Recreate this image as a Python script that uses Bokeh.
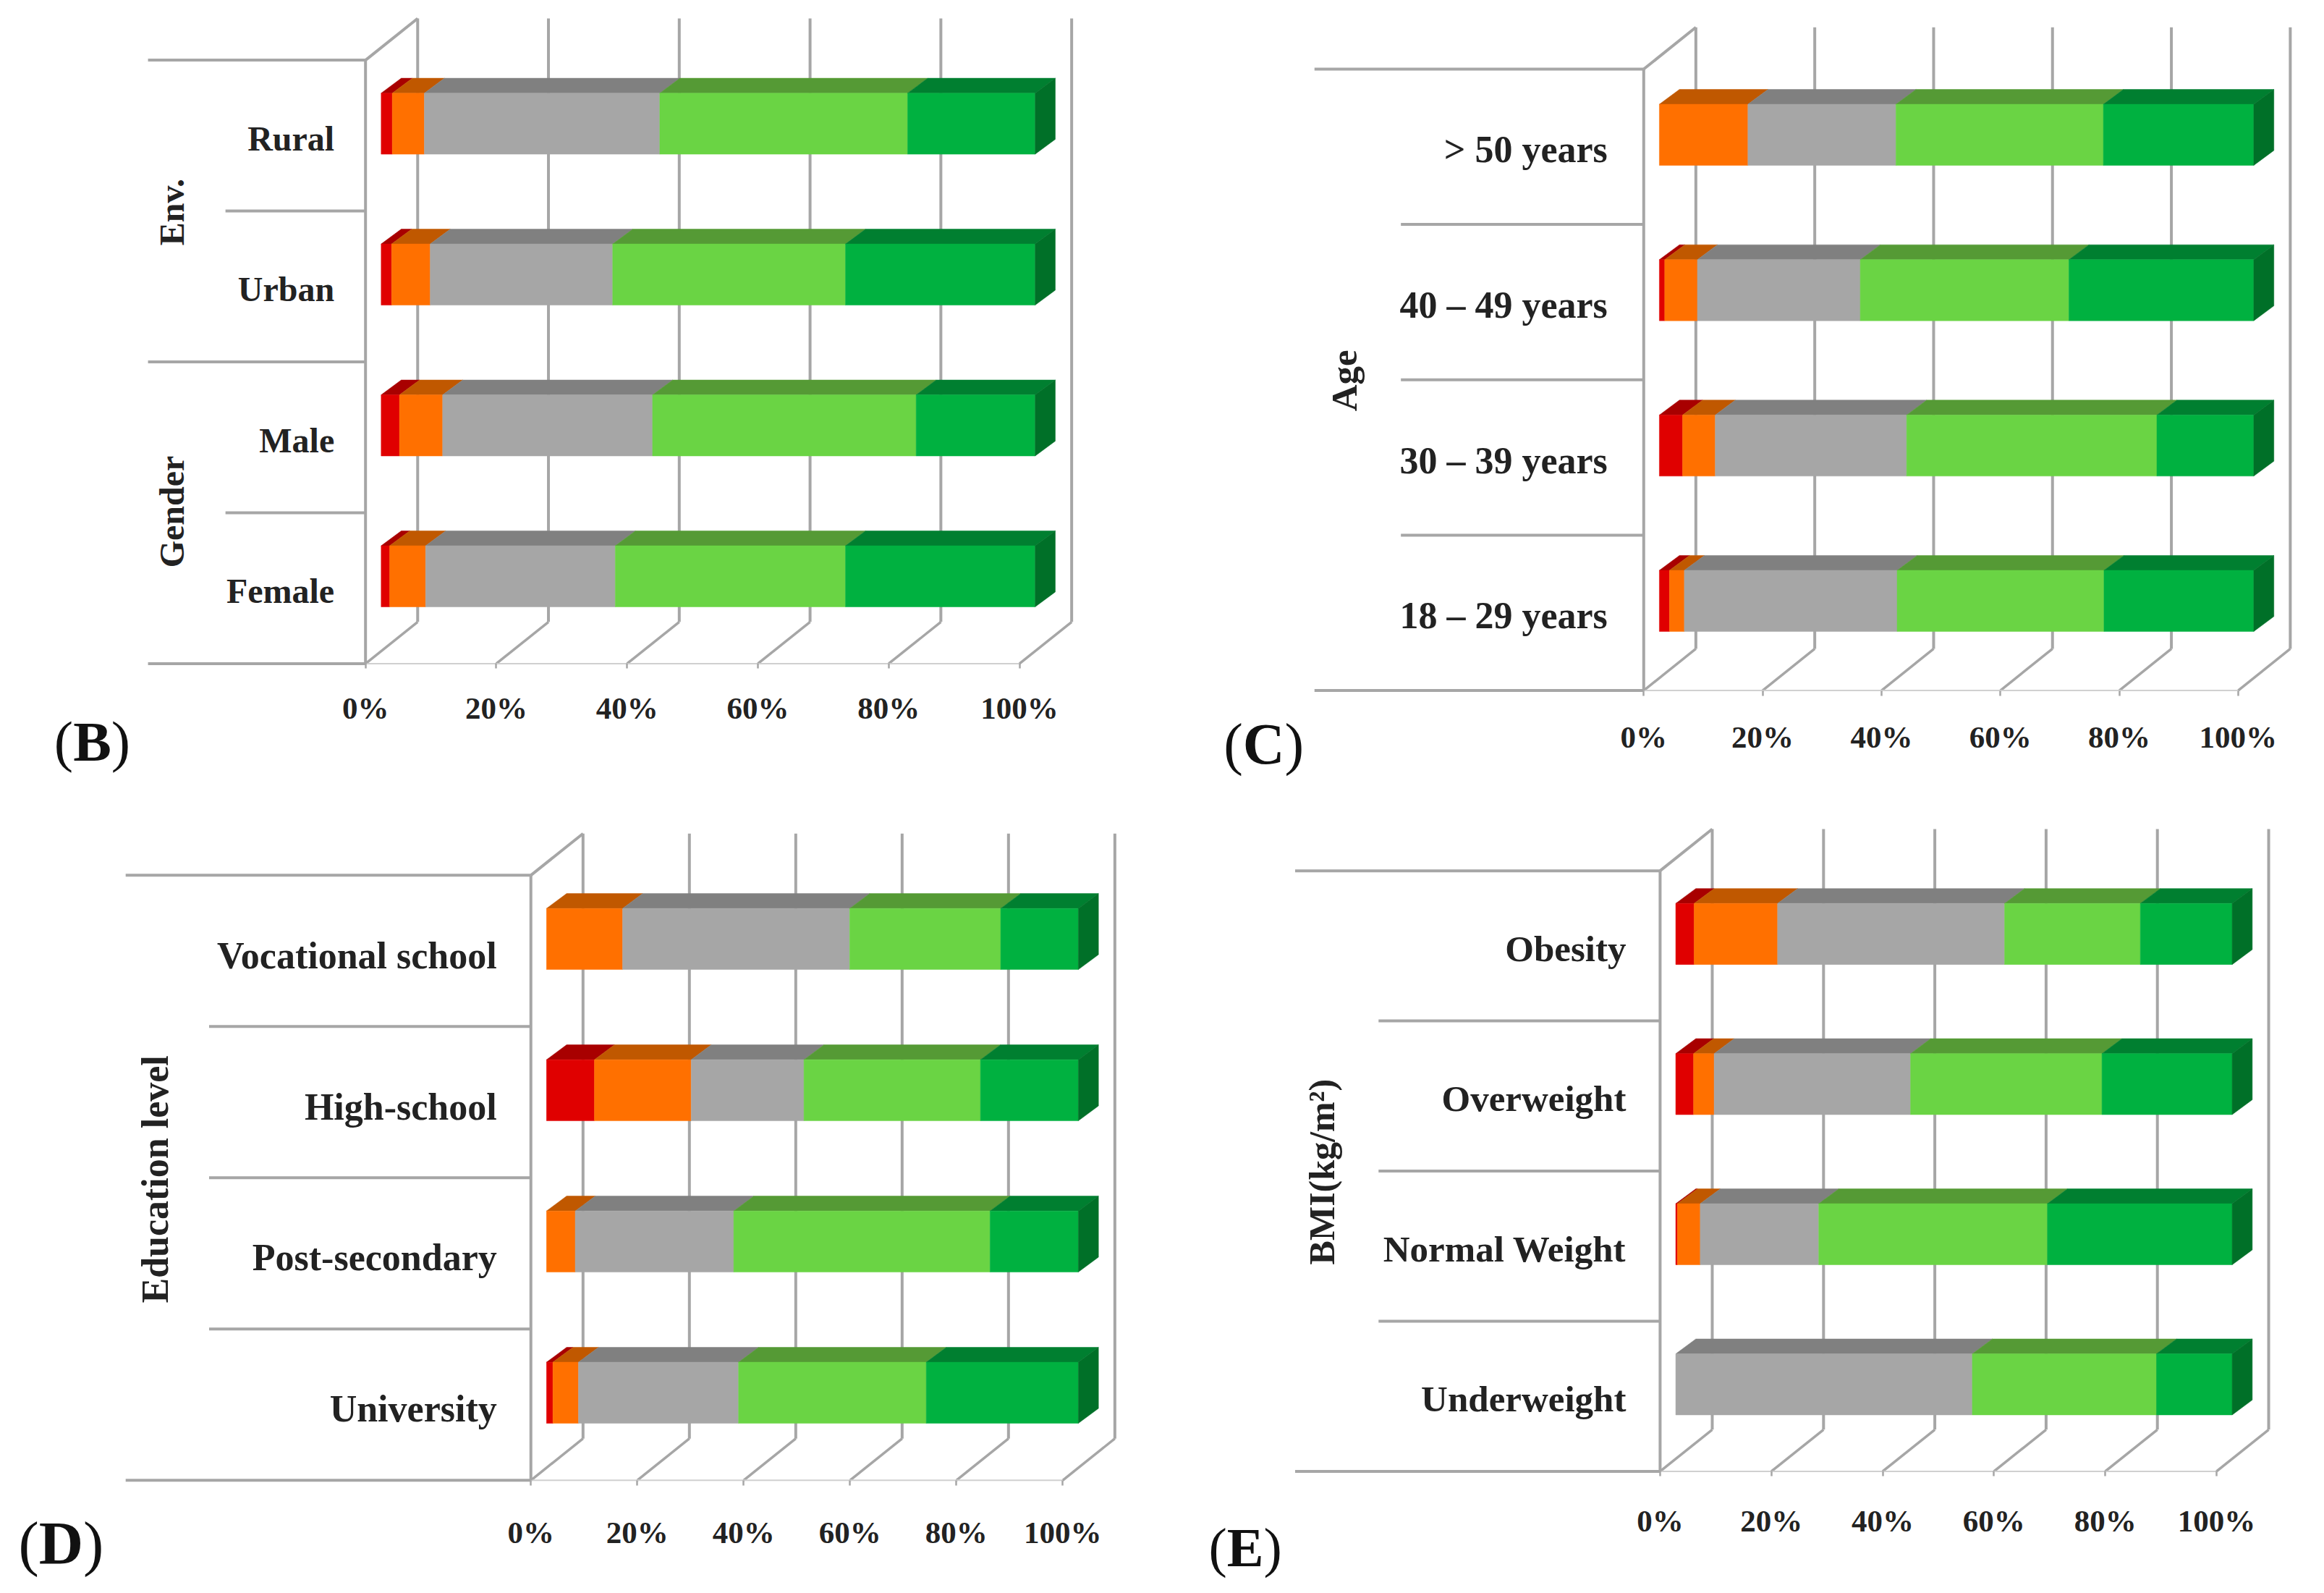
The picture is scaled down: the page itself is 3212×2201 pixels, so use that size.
import math
from bokeh.plotting import figure
from bokeh.layouts import column, row
from bokeh.models import LinearAxis, FixedTicker, Range1d
from bokeh.core.properties import value
from bokeh.embed import file_html
from bokeh.resources import INLINE

# ---- data (percent per category, top row first) ----
front_colors = ["#E00000", "#FF7000", "#A6A6A6", "#6AD444", "#00B140"]
top_colors = ["#A80000", "#C05800", "#808080", "#559A35", "#007F30"]
side_color = "#007028"
tick_values = [0, 20, 40, 60, 80, 100]
tick_labels = ["0%", "20%", "40%", "60%", "80%", "100%"]

b_categories = ["Rural", "Urban", "Male", "Female"]
b_values = [[1.7, 4.9, 36.0, 37.9, 19.5],
            [1.6, 5.9, 27.9, 35.6, 29.0],
            [2.8, 6.6, 32.1, 40.3, 18.2],
            [1.3, 5.5, 29.0, 35.2, 29.0]]
c_categories = ["> 50 years", "40 \u2013 49 years", "30 \u2013 39 years", "18 \u2013 29 years"]
c_values = [[0.0, 14.9, 24.9, 34.9, 25.3],
            [0.9, 5.5, 27.4, 35.1, 31.1],
            [3.9, 5.5, 32.2, 42.1, 16.3],
            [1.7, 2.5, 35.8, 34.8, 25.2]]
d_categories = ["Vocational school", "High-school", "Post-secondary", "University"]
d_values = [[0.0, 14.3, 42.7, 28.4, 14.6],
            [9.0, 18.2, 21.2, 33.2, 18.4],
            [0.0, 5.4, 29.8, 48.2, 16.6],
            [1.2, 4.8, 30.1, 35.3, 28.6]]
e_categories = ["Obesity", "Overweight", "Normal Weight", "Underweight"]
e_values = [[3.3, 15.0, 40.8, 24.4, 16.5],
            [3.2, 3.7, 35.3, 34.4, 23.4],
            [0.3, 4.1, 21.3, 41.1, 33.2],
            [0.0, 0.0, 53.3, 33.1, 13.6]]

# ---- layout (in 1560-wide units) ----
S = 3212 / 1560
GRID = "#A6A6A6"
SERIF = "Liberation Serif"
COLS = [(8, 1598), (1606, 1598)]
ROWS = [(8, 1094), (1102, 1091)]


def build(cats, vals, col, rw, x0, x100, top, bottom, left_long, left_short, long_rows,
          bar_off, label_size, tick_size, x_standoff, y_standoff, label_dy,
          groups, group_size, letter, letter_pos, letter_size):
    ox, fw = COLS[col]
    oy, fh = ROWS[rw]
    fx = lambda v: v * S - ox
    fy = lambda v: v * S - oy
    ppx = (x100 - x0) * S / 100
    ppy = (bottom - top) * S / 4
    x0f, botf = fx(x0), fy(bottom)
    dx_unit = 1 * S / ppx     # one layout unit, in data x
    dy_unit = 1 * S / ppy     # one layout unit, in data y
    X = lambda v: (v - x0) * dx_unit
    Y = lambda v: (bottom - v) * dy_unit

    p = figure(width=fw, height=fh, output_backend="svg", toolbar_location=None,
               x_range=Range1d(-x0f / ppx, (fw - x0f) / ppx),
               y_range=Range1d(-(fh - botf) / ppy, botf / ppy),
               x_axis_type=None, y_axis_type=None, min_border=0,
               outline_line_color=None)
    p.grid.visible = False

    DX, DY = 35 * dx_unit, 28 * dy_unit

    # back wall and floor
    p.segment(x0=[t + DX for t in tick_values], y0=[DY] * 6,
              x1=[t + DX for t in tick_values], y1=[4 + DY] * 6,
              line_color=GRID, line_width=4)
    p.segment(x0=tick_values, y0=[0] * 6, x1=[t + DX for t in tick_values], y1=[DY] * 6,
              line_color=GRID, line_width=3.5)
    p.segment(x0=[0], y0=[0], x1=[100], y1=[0], line_color="#D0D0D0", line_width=2)
    p.segment(x0=[0, 0], y0=[0, 4], x1=[0, DX], y1=[4, 4 + DY],
              line_color=GRID, line_width=4)

    # separators left of the wall
    seps = [0, 1, 2, 3, 4]
    p.segment(x0=[X(left_long) if s in long_rows else X(left_short) for s in seps], y0=seps,
              x1=[0] * 5, y1=seps, line_color=GRID, line_width=4)

    # 3D bars
    bar_x = 10.5 * dx_unit
    off_y = bar_off * dy_unit
    dep_x = 13.5 * dx_unit
    dep_y = 10 * dy_unit
    h = 41 * dy_unit
    for i, rowv in enumerate(vals):
        yc = (3 - i) + 0.5 + off_y
        y_lo, y_hi = yc - h / 2, yc + h / 2
        cum = 0.0
        for v, fc, tc in zip(rowv, front_colors, top_colors):
            if v > 0:
                a, b = bar_x + cum, bar_x + cum + v
                p.patches(xs=[[a, b, b + dep_x, a + dep_x]],
                          ys=[[y_hi, y_hi, y_hi + dep_y, y_hi + dep_y]],
                          fill_color=tc, line_color=tc, line_width=0.5)
                p.quad(left=[a], right=[b], bottom=[y_lo], top=[y_hi],
                       fill_color=fc, line_color=fc, line_width=0.5)
            cum += v
        e = bar_x + cum
        p.patches(xs=[[e, e + dep_x, e + dep_x, e]],
                  ys=[[y_lo, y_lo + dep_y, y_hi + dep_y, y_hi]],
                  fill_color=side_color, line_color=side_color, line_width=0.5)

    # axes
    xa = LinearAxis(ticker=FixedTicker(ticks=tick_values),
                    major_label_overrides=dict(zip(tick_values, tick_labels)),
                    fixed_location=0, axis_line_color=None,
                    major_tick_line_color=GRID, major_tick_line_width=2.5,
                    major_tick_out=7, major_tick_in=0, minor_tick_line_color=None,
                    major_label_standoff=x_standoff,
                    major_label_text_font=SERIF, major_label_text_font_style="bold",
                    major_label_text_font_size=f"{tick_size}px", major_label_text_color="#222222")
    p.add_layout(xa, "below")
    centers = [3.5 - label_dy * dy_unit, 2.5 - label_dy * dy_unit,
               1.5 - label_dy * dy_unit, 0.5 - label_dy * dy_unit]
    ya = LinearAxis(ticker=FixedTicker(ticks=centers),
                    major_label_overrides=dict(zip(centers, cats)),
                    fixed_location=0, axis_line_color=None,
                    major_tick_line_color=None, minor_tick_line_color=None,
                    major_label_standoff=y_standoff,
                    major_label_text_font=SERIF, major_label_text_font_style="bold",
                    major_label_text_font_size=f"{label_size}px", major_label_text_color="#222222")
    p.add_layout(ya, "left")

    # rotated group titles
    for name, gx, gy in groups:
        p.text(x=[X(gx)], y=[Y(gy)], text=[name], angle=math.pi / 2, text_align="center",
               text_baseline="middle", text_font=value(SERIF), text_font_style="bold",
               text_font_size=f"{group_size}px", text_color="#222222")

    # panel letter: regular parentheses, bold letter
    lx, ly = letter_pos
    w_par = 0.333 * letter_size / S
    w_let = {"B": 0.667, "C": 0.722, "D": 0.722, "E": 0.667}[letter] * letter_size / S
    for t, tx, st in (("(", lx, "normal"), (letter, lx + w_par, "bold"),
                      (")", lx + w_par + w_let, "normal")):
        p.text(x=[X(tx)], y=[Y(ly)], text=[t], text_align="left", text_baseline="middle",
               text_font=value(SERIF), text_font_style=st,
               text_font_size=f"{letter_size}px", text_color="#111111")
    return p


pb = build(b_categories, b_values, 0, 0, 249, 688, 44, 449, 103, 155, {0, 2, 4},
           8, 48, 43, 31, 37, 2,
           [("Env.", 119, 146), ("Gender", 119, 347)], 48, "B", (40, 501), 79)
pc = build(c_categories, c_values, 1, 0, 1107, 1506, 50, 467, 886, 944, {0, 4},
           8, 52, 43, 34, 44, 2,
           [("Age", 906, 259)], 51, "C", (825, 503), 80)
pd_ = build(d_categories, d_values, 0, 1, 360, 717, 591, 997, 88, 144, {0, 4},
            8, 52, 43, 42, 41, 3,
            [("Education level", 108, 795)], 52, "D", (16, 1039), 85)
pe = build(e_categories, e_values, 1, 1, 1118, 1491.5, 588, 991, 873, 929, {0, 4},
           8, 51, 43, 38, 41, 2,
           [("BMI(kg/m\u00b2)", 891, 790)], 50, "E", (815, 1042), 76)

page = column(row(pb, pc), row(pd_, pe))
open("out.html", "w").write(file_html(page, INLINE))
